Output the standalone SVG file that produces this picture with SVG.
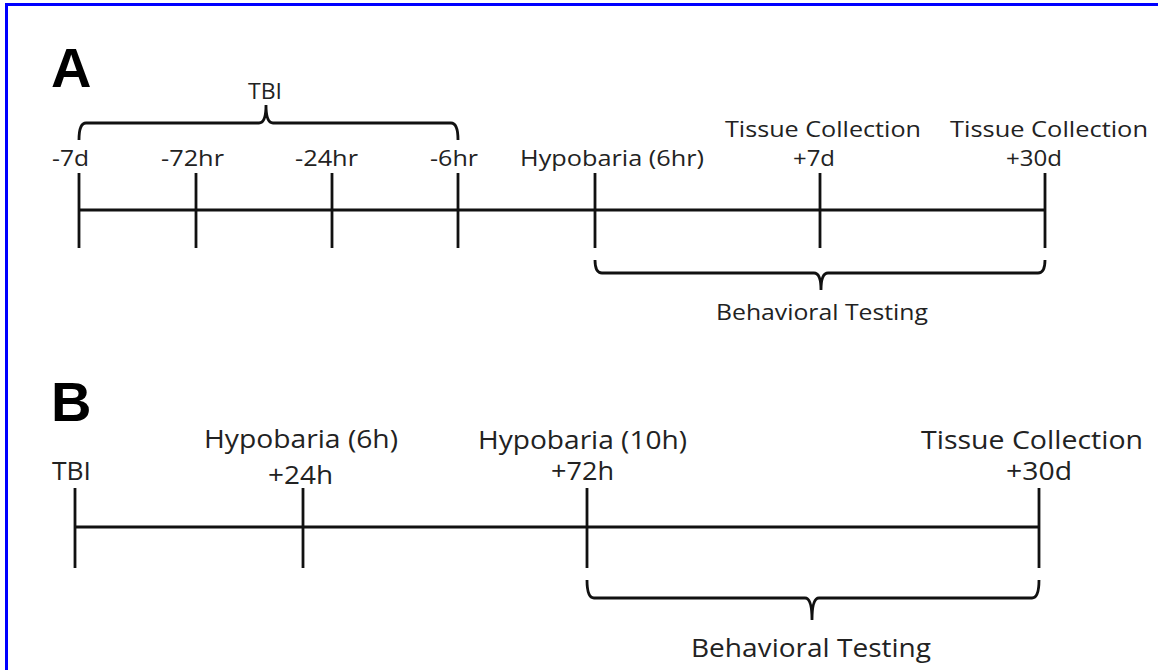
<svg xmlns="http://www.w3.org/2000/svg" width="1158" height="670" viewBox="0 0 1158 670">
<style>
.ln{stroke:#111;stroke-width:2.8;fill:none;stroke-linecap:butt}
.t{font-family:"Open Sans","Liberation Sans",sans-serif;fill:#222;font-size:22px}
.tb{font-family:"Open Sans","Liberation Sans",sans-serif;fill:#222;font-size:25px}
.big{font-family:"Liberation Sans",Arial,sans-serif;font-weight:bold;fill:#000;font-size:56px}
</style>
<rect x="0" y="0" width="1158" height="670" fill="#fff"/>
<g id="frame">
<line x1="5.5" y1="4.5" x2="1158" y2="4.5" stroke="#0000ff" stroke-width="3"/>
<line x1="6.5" y1="3" x2="6.5" y2="670" stroke="#0000ff" stroke-width="3"/>
</g>
<text class="big" x="51" y="87">A</text>
<text class="big" x="51" y="421">B</text>
<g id="connectors">
<line class="ln" x1="79" y1="210" x2="1045" y2="210"/>
<path class="ln" d="M79,140 Q79,123 86,123 H259 Q266,123 266,105 Q266,123 273,123 H451 Q458,123 458,140"/>
<path class="ln" d="M595,260 Q595,273 602,273 H814 Q821,273 821,290 Q821,273 828,273 H1038 Q1045,273 1045,260"/>
<line class="ln" x1="75" y1="527" x2="1039" y2="527"/>
<path class="ln" d="M587,580 Q587,598 594,598 H805 Q812,598 812,620 Q812,598 819,598 H1032 Q1039,598 1039,580"/>
</g>
<g id="A-TBI"><text class="t" x="248" y="99" textLength="34" lengthAdjust="spacingAndGlyphs">TBI</text></g>
<g id="A-7d"><line class="ln" x1="79" y1="173" x2="79" y2="248"/><text class="t" x="52" y="166" textLength="37" lengthAdjust="spacingAndGlyphs">-7d</text></g>
<g id="A-72hr"><line class="ln" x1="196" y1="173" x2="196" y2="248"/><text class="t" x="161" y="166" textLength="63" lengthAdjust="spacingAndGlyphs">-72hr</text></g>
<g id="A-24hr"><line class="ln" x1="332" y1="173" x2="332" y2="248"/><text class="t" x="295" y="166" textLength="63" lengthAdjust="spacingAndGlyphs">-24hr</text></g>
<g id="A-6hr"><line class="ln" x1="458" y1="173" x2="458" y2="248"/><text class="t" x="430" y="166" textLength="48" lengthAdjust="spacingAndGlyphs">-6hr</text></g>
<g id="A-hypobaria"><line class="ln" x1="595" y1="173" x2="595" y2="248"/><text class="t" x="520" y="166" textLength="184" lengthAdjust="spacingAndGlyphs">Hypobaria (6hr)</text></g>
<g id="A-tissue7d"><line class="ln" x1="820" y1="173" x2="820" y2="248"/><text class="t" x="725" y="137" textLength="196" lengthAdjust="spacingAndGlyphs">Tissue Collection</text><text class="t" x="793" y="166" textLength="42" lengthAdjust="spacingAndGlyphs">+7d</text></g>
<g id="A-tissue30d"><line class="ln" x1="1045" y1="173" x2="1045" y2="248"/><text class="t" x="950" y="137" textLength="198" lengthAdjust="spacingAndGlyphs">Tissue Collection</text><text class="t" x="1006" y="166" textLength="56" lengthAdjust="spacingAndGlyphs">+30d</text></g>
<g id="A-behavioral"><text class="t" x="716" y="320" textLength="212" lengthAdjust="spacingAndGlyphs">Behavioral Testing</text></g>
<g id="B-TBI"><line class="ln" x1="75" y1="488" x2="75" y2="568"/><text class="tb" x="52" y="480" textLength="39" lengthAdjust="spacingAndGlyphs">TBI</text></g>
<g id="B-hypo6h"><line class="ln" x1="303" y1="488" x2="303" y2="568"/><text class="tb" x="204" y="448" textLength="194" lengthAdjust="spacingAndGlyphs">Hypobaria (6h)</text><text class="tb" x="268" y="484" textLength="65" lengthAdjust="spacingAndGlyphs">+24h</text></g>
<g id="B-hypo10h"><line class="ln" x1="587" y1="488" x2="587" y2="568"/><text class="tb" x="478" y="449" textLength="209" lengthAdjust="spacingAndGlyphs">Hypobaria (10h)</text><text class="tb" x="551" y="480" textLength="63" lengthAdjust="spacingAndGlyphs">+72h</text></g>
<g id="B-tissue30d"><line class="ln" x1="1039" y1="488" x2="1039" y2="568"/><text class="tb" x="921" y="449" textLength="222" lengthAdjust="spacingAndGlyphs">Tissue Collection</text><text class="tb" x="1006" y="480" textLength="66" lengthAdjust="spacingAndGlyphs">+30d</text></g>
<g id="B-behavioral"><text class="tb" x="691" y="657" textLength="240" lengthAdjust="spacingAndGlyphs">Behavioral Testing</text></g>
</svg>
